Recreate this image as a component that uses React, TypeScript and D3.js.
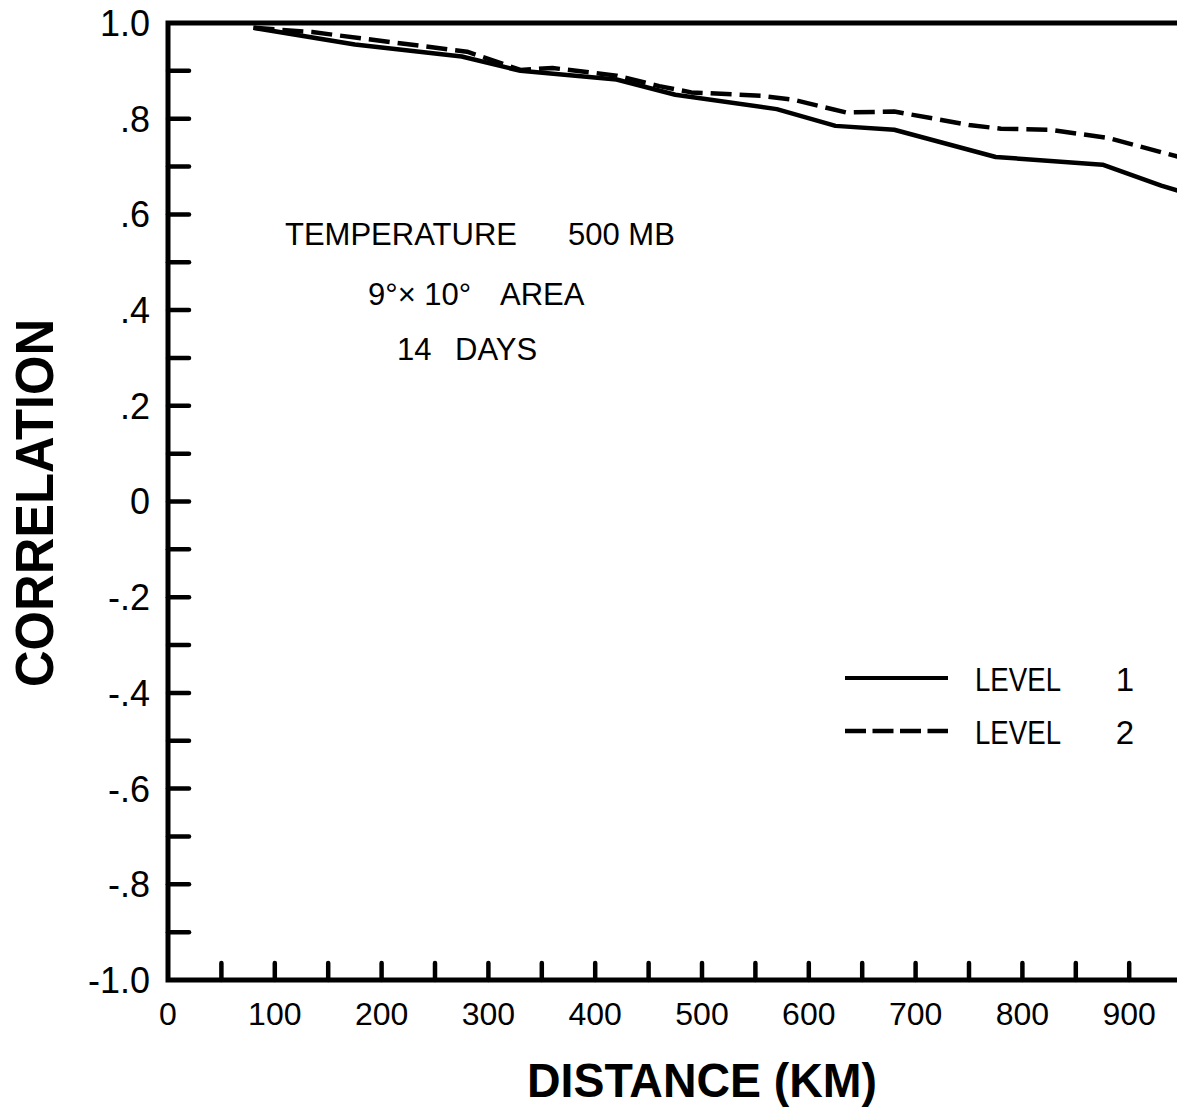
import React from "react";
import * as d3 from "d3";

const distanceLevel1 = [80, 175, 275, 330, 420, 475, 570, 625, 680, 775, 875, 930, 960];
const level1 = [0.99, 0.955, 0.93, 0.9, 0.882, 0.85, 0.82, 0.785, 0.777, 0.72, 0.704, 0.66, 0.64];

const distanceLevel2 = [80, 135, 280, 330, 360, 420, 460, 490, 555, 585, 635, 680, 750, 780, 825, 880, 950];
const level2 = [0.99, 0.981, 0.94, 0.902, 0.906, 0.89, 0.868, 0.855, 0.848, 0.84, 0.813, 0.815, 0.787, 0.779, 0.777, 0.76, 0.718];

const xTickLabels = [0, 100, 200, 300, 400, 500, 600, 700, 800, 900];
const xMinorTicks = [50, 100, 150, 200, 250, 300, 350, 400, 450, 500, 550, 600, 650, 700, 750, 800, 850, 900, 950];
const yTickValues = [1.0, 0.8, 0.6, 0.4, 0.2, 0, -0.2, -0.4, -0.6, -0.8, -1.0];
const yTickLabels = ["1.0", ".8", ".6", ".4", ".2", "0", "-.2", "-.4", "-.6", "-.8", "-1.0"];
const yMinorTicks = [0.9, 0.8, 0.7, 0.6, 0.5, 0.4, 0.3, 0.2, 0.1, 0, -0.1, -0.2, -0.3, -0.4, -0.5, -0.6, -0.7, -0.8, -0.9];

const seriesNames = ["LEVEL", "LEVEL"];
const seriesNumbers = ["1", "2"];

const FONT = "'Liberation Sans', Arial, Helvetica, sans-serif";

export default function App() {
  const W = 1177;
  const H = 1108;
  const x = d3.scaleLinear().domain([0, 1000]).range([168, 1236]);
  const y = d3.scaleLinear().domain([-1, 1]).range([980, 23]);

  const line = d3
    .line<[number, number]>()
    .x((d) => x(d[0]))
    .y((d) => y(d[1]));

  const l1 = line(distanceLevel1.map((d, i) => [d, level1[i]] as [number, number])) || "";
  const l2 = line(distanceLevel2.map((d, i) => [d, level2[i]] as [number, number])) || "";

  const x0 = x(0);
  const yTop = y(1);
  const yBot = y(-1);

  return (
    <svg
      width={W}
      height={H}
      viewBox={`0 0 ${W} ${H}`}
      style={{ position: "absolute", left: 0, top: 0, background: "#fff", overflow: "hidden" }}
    >
      <rect x={0} y={0} width={W} height={H} fill="#fff" />
      {/* axes frame */}
      <path
        d={`M${x(1000)},${yTop} L${x0},${yTop} L${x0},${yBot} L${x(1000)},${yBot}`}
        fill="none"
        stroke="#000"
        strokeWidth={5}
        strokeLinejoin="miter"
      />
      {/* y ticks */}
      {yMinorTicks.map((v) => (
        <line
          key={"yt" + v}
          x1={x0}
          x2={x0 + 21}
          y1={y(v)}
          y2={y(v)}
          stroke="#000"
          strokeWidth={4.5}
          strokeLinecap="round"
        />
      ))}
      {/* x ticks */}
      {xMinorTicks.map((v) => (
        <line
          key={"xt" + v}
          x1={x(v)}
          x2={x(v)}
          y1={yBot}
          y2={yBot - 17}
          stroke="#000"
          strokeWidth={4.5}
          strokeLinecap="round"
        />
      ))}
      {/* y labels */}
      {yTickValues.map((v, i) => (
        <text
          key={"yl" + i}
          x={150}
          y={y(v)}
          dy="0.36em"
          textAnchor="end"
          fontFamily={FONT}
          fontSize={36}
          fill="#000"
        >
          {yTickLabels[i]}
        </text>
      ))}
      {/* x labels */}
      {xTickLabels.map((v) => (
        <text
          key={"xl" + v}
          x={x(v)}
          y={1025}
          textAnchor="middle"
          fontFamily={FONT}
          fontSize={32}
          fill="#000"
        >
          {v}
        </text>
      ))}
      {/* axis titles */}
      <text
        x={702}
        y={1097}
        textAnchor="middle"
        fontFamily={FONT}
        fontWeight="bold"
        fontSize={48}
        textLength={350}
        lengthAdjust="spacingAndGlyphs"
        fill="#000"
      >
        DISTANCE (KM)
      </text>
      <text
        transform={`translate(53, 503) rotate(-90)`}
        textAnchor="middle"
        fontFamily={FONT}
        fontWeight="bold"
        fontSize={54}
        textLength={368}
        lengthAdjust="spacingAndGlyphs"
        fill="#000"
      >
        CORRELATION
      </text>
      {/* annotation */}
      <g fontFamily={FONT} fontSize={31} fill="#000">
        <text x={285} y={245}>TEMPERATURE</text>
        <text x={568} y={245}>500 MB</text>
        <text x={368} y={305}>9°× 10°</text>
        <text x={500} y={305}>AREA</text>
        <text x={397} y={360}>14</text>
        <text x={455} y={360}>DAYS</text>
      </g>
      {/* series */}
      <path d={l1} fill="none" stroke="#000" strokeWidth={4.5} strokeLinejoin="round" />
      <path
        d={l2}
        fill="none"
        stroke="#000"
        strokeWidth={4.5}
        strokeDasharray="21 8"
        strokeLinejoin="round"
      />
      {/* legend */}
      <line x1={845} x2={948} y1={678} y2={678} stroke="#000" strokeWidth={4} />
      <line x1={845} x2={948} y1={731} y2={731} stroke="#000" strokeWidth={4.5} strokeDasharray="21 6.5" />
      {seriesNames.map((n, i) => (
        <g key={"lg" + i} fontFamily={FONT} fontSize={33} fill="#000">
          <text x={975} y={691 + i * 53} textLength={86} lengthAdjust="spacingAndGlyphs">
            {n}
          </text>
          <text x={1134} y={691 + i * 53} textAnchor="end">
            {seriesNumbers[i]}
          </text>
        </g>
      ))}
    </svg>
  );
}
